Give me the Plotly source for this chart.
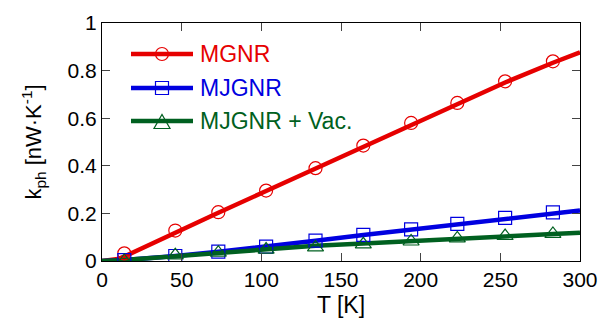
import plotly.graph_objects as go

# ---- data ----
T_pts = [14, 46, 73, 103, 134, 164, 194, 223, 253, 283]
mgnr_pts = [0.032, 0.128, 0.205, 0.296, 0.390, 0.485, 0.580, 0.664, 0.755, 0.839]
mjgnr_pts = [0.004, 0.021, 0.039, 0.060, 0.086, 0.110, 0.133, 0.156, 0.181, 0.204]
vac_pts = [0.0, 0.024, 0.035, 0.048, 0.057, 0.070, 0.082, 0.095, 0.105, 0.114]

T_line = [0, 5, 10, 15, 20, 30, 46, 73, 103, 134, 164, 194, 223, 253, 283, 300]
mgnr_line = [0, 0.002, 0.008, 0.022, 0.038, 0.068, 0.122, 0.203, 0.294, 0.388, 0.482, 0.575, 0.660, 0.750, 0.833, 0.877]
mjgnr_line = [0, 0.0005, 0.0015, 0.004, 0.007, 0.012, 0.021, 0.039, 0.060, 0.085, 0.109, 0.132, 0.155, 0.180, 0.202, 0.212]
vac_line = [0, 0.0005, 0.0015, 0.004, 0.007, 0.012, 0.022, 0.038, 0.053, 0.064, 0.074, 0.085, 0.095, 0.104, 0.113, 0.119]

names = ["MGNR", "MJGNR", "MJGNR + Vac."]
colors = ["#e60000", "#0000e0", "#006020"]
symbols = ["circle-open", "square-open", "triangle-up-open"]
x_ticks = [0, 50, 100, 150, 200, 250, 300]
y_ticks = [0, 0.2, 0.4, 0.6, 0.8, 1]
y_ticklabels = ["0", "0.2", "0.4", "0.6", "0.8", "1"]

FONT = "Liberation Sans, Arial, sans-serif"

fig = go.Figure()
lines = [mgnr_line, mjgnr_line, vac_line]
pts = [mgnr_pts, mjgnr_pts, vac_pts]
msizes = [13, 13, 14]
for i in range(3):
    fig.add_trace(go.Scatter(x=T_line, y=lines[i], mode="lines",
                             line=dict(color=colors[i], width=4.5),
                             showlegend=False, hoverinfo="skip"))
for i in range(3):
    fig.add_trace(go.Scatter(x=T_pts, y=pts[i], mode="markers",
                             marker=dict(symbol=symbols[i], size=msizes[i],
                                         color=colors[i], line=dict(width=1.2, color=colors[i])),
                             showlegend=False))

# ---- geometry (page pixels; page body has an 8px offset) ----
W, H = 616, 324
OFF = 8
PL, PR, PT, PB = 102, 580, 23, 261   # plot box in page pixels
L, R, Tm, B = PL - OFF, W - PR + OFF, PT - OFF, H - PB + OFF
pw, ph = PR - PL, PB - PT

def px(x):
    return (x - PL) / pw

def py(y):
    return (PB - y) / ph

shapes = []
annotations = []
rows = [54, 88, 121]
for i in range(3):
    yy = rows[i]
    shapes.append(dict(type="line", xref="paper", yref="paper",
                       x0=px(131), x1=px(193), y0=py(yy), y1=py(yy),
                       line=dict(color=colors[i], width=4.5)))
    cx = 162
    if i == 0:
        shapes.append(dict(type="circle", xref="paper", yref="paper",
                           x0=px(cx - 6.5), x1=px(cx + 6.5), y0=py(yy + 6.5), y1=py(yy - 6.5),
                           line=dict(color=colors[i], width=1.2)))
    elif i == 1:
        shapes.append(dict(type="rect", xref="paper", yref="paper",
                           x0=px(cx - 6.5), x1=px(cx + 6.5), y0=py(yy + 6.5), y1=py(yy - 6.5),
                           line=dict(color=colors[i], width=1.2)))
    else:
        path = "M {} {} L {} {} L {} {} Z".format(
            px(cx - 8), py(yy + 7.5), px(cx + 8), py(yy + 7.5), px(cx), py(yy - 6.5))
        shapes.append(dict(type="path", xref="paper", yref="paper", path=path,
                           line=dict(color=colors[i], width=1.2)))
    annotations.append(dict(x=px(198), y=py(yy), xref="paper", yref="paper",
                            text=names[i], showarrow=False, xanchor="left", yanchor="middle",
                            font=dict(family=FONT, size=23, color=colors[i])))

fig.update_layout(
    width=W, height=H,
    margin=dict(l=L, r=R, t=Tm, b=B, autoexpand=False),
    paper_bgcolor="white", plot_bgcolor="white",
    font=dict(family=FONT, size=21, color="black"),
    showlegend=False,
    shapes=shapes,
    annotations=annotations,
)
fig.update_xaxes(range=[0, 300], tickvals=x_ticks, ticks="inside", ticklen=8,
                 showline=True, linecolor="black", linewidth=1, mirror="ticks",
                 showgrid=False, zeroline=False, automargin=False,
                 title=dict(text="T [K]", font=dict(size=23), standoff=6))
fig.update_yaxes(range=[0, 1], tickvals=y_ticks, ticktext=y_ticklabels,
                 ticks="inside", ticklen=8,
                 showline=True, linecolor="black", linewidth=1, mirror="ticks",
                 showgrid=False, zeroline=False, automargin=False,
                 title=dict(text="k<sub>ph</sub> [nW·K<sup>-1</sup>]", font=dict(size=22), standoff=19))

fig.write_html("out.html")
